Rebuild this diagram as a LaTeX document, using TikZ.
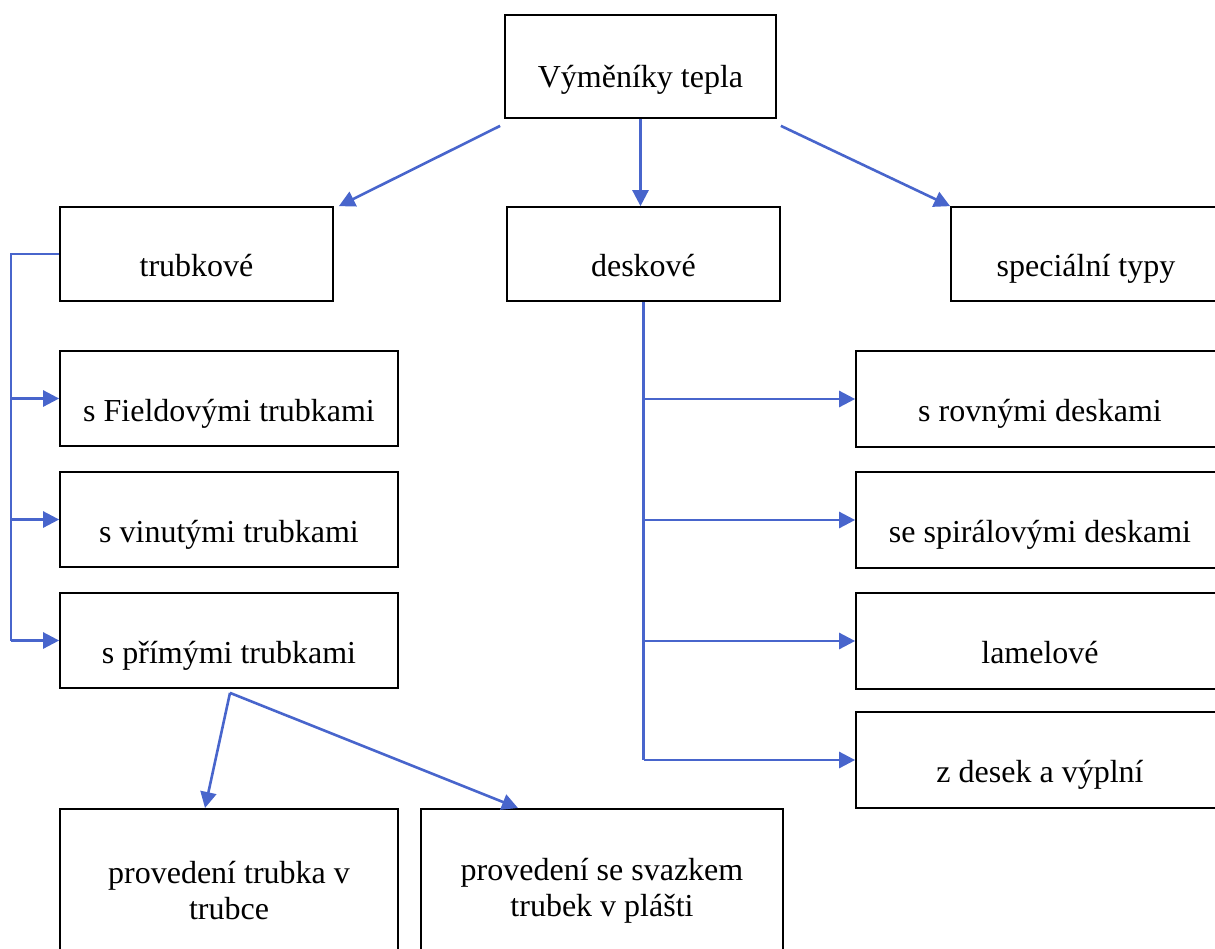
\documentclass[tikz,border=0pt]{standalone}
\usepackage{fontspec}
\setmainfont{Liberation Serif}
\usetikzlibrary{arrows.meta}
\definecolor{linkblue}{RGB}{72,101,204}
\tikzset{
  blk/.style={draw=black,line width=1.7pt,inner sep=0pt,
    font=\fontsize{32}{35}\selectfont,text height=45pt,text depth=0pt},
  blktwo/.style={draw=black,line width=1.7pt,inner sep=0pt,align=center,
    font=\fontsize{32}{36}\selectfont},
  link/.style={draw=linkblue,line width=2.6pt},
  linkarrow/.style={link,-{Triangle[length=16pt,width=16pt]}}
}
\begin{document}
\begin{tikzpicture}[x=1pt,y=-1pt]
\useasboundingbox (0,0) rectangle (1215,948);

% top level
\node[blk,minimum width=271pt,minimum height=103pt,text height=41pt] (top) at (640.5,66.5) {Výměníky tepla};
\node[blk,minimum width=273pt,minimum height=94pt] (trub) at (196.5,254) {trubkové};
\node[blk,minimum width=273pt,minimum height=94pt] (desk) at (643.5,254) {deskové};
\node[blk,minimum width=270pt,minimum height=94pt] (spec) at (1086,254) {speciální typy};

% trubkove
\node[blk,minimum width=338pt,minimum height=95pt] (field) at (229,398.5) {s Fieldovými trubkami};
\node[blk,minimum width=338pt,minimum height=95pt] (vinu) at (229,519.5) {s vinutými trubkami};
\node[blk,minimum width=338pt,minimum height=95pt] (prim) at (229,640.5) {s přímými trubkami};
\node[blktwo,minimum width=338pt,minimum height=164pt,anchor=north] (trubka) at (229,808) {provedení trubka v\\trubce};
\node[blktwo,minimum width=362pt,minimum height=164pt,anchor=north] (svaz) at (602,808) {provedení se svazkem\\trubek v plášti};

% deskove
\node[blk,minimum width=368pt,minimum height=96pt] (rovne) at (1040,399) {s rovnými deskami};
\node[blk,minimum width=368pt,minimum height=96pt] (spir) at (1040,520) {se spirálovými deskami};
\node[blk,minimum width=368pt,minimum height=96pt] (lam) at (1040,641) {lamelové};
\node[blk,minimum width=368pt,minimum height=96pt] (zdesk) at (1040,760) {z desek a výplní};

\draw[linkarrow] ([shift={(-4,7)}]top.south west) -- ([shift={(5,0)}]trub.north east);
\draw[linkarrow] (top.south) -- (top.south |- desk.north);
\draw[linkarrow] ([shift={(4,7)}]top.south east) -- (spec.north west);

\draw[link] (trub.west) -- ++(-48,0) coordinate (tl) -- (tl |- prim.west);
\draw[linkarrow] (tl |- field.west) -- (field.west);
\draw[linkarrow] (tl |- vinu.west) -- (vinu.west);
\draw[linkarrow] (tl |- prim.west) -- (prim.west);

\draw[link] (desk.south) -- (desk.south |- zdesk.west);
\draw[linkarrow] (desk.south |- rovne.west) -- (rovne.west);
\draw[linkarrow] (desk.south |- spir.west) -- (spir.west);
\draw[linkarrow] (desk.south |- lam.west) -- (lam.west);
\draw[linkarrow] (desk.south |- zdesk.west) -- (zdesk.west);

\coordinate (ps) at ([shift={(1,4)}]prim.south);
\draw[linkarrow] (ps) -- ([shift={(-24,0)}]trubka.north);
\draw[linkarrow] (ps) -- ([shift={(-84,0)}]svaz.north);
\end{tikzpicture}
\end{document}
